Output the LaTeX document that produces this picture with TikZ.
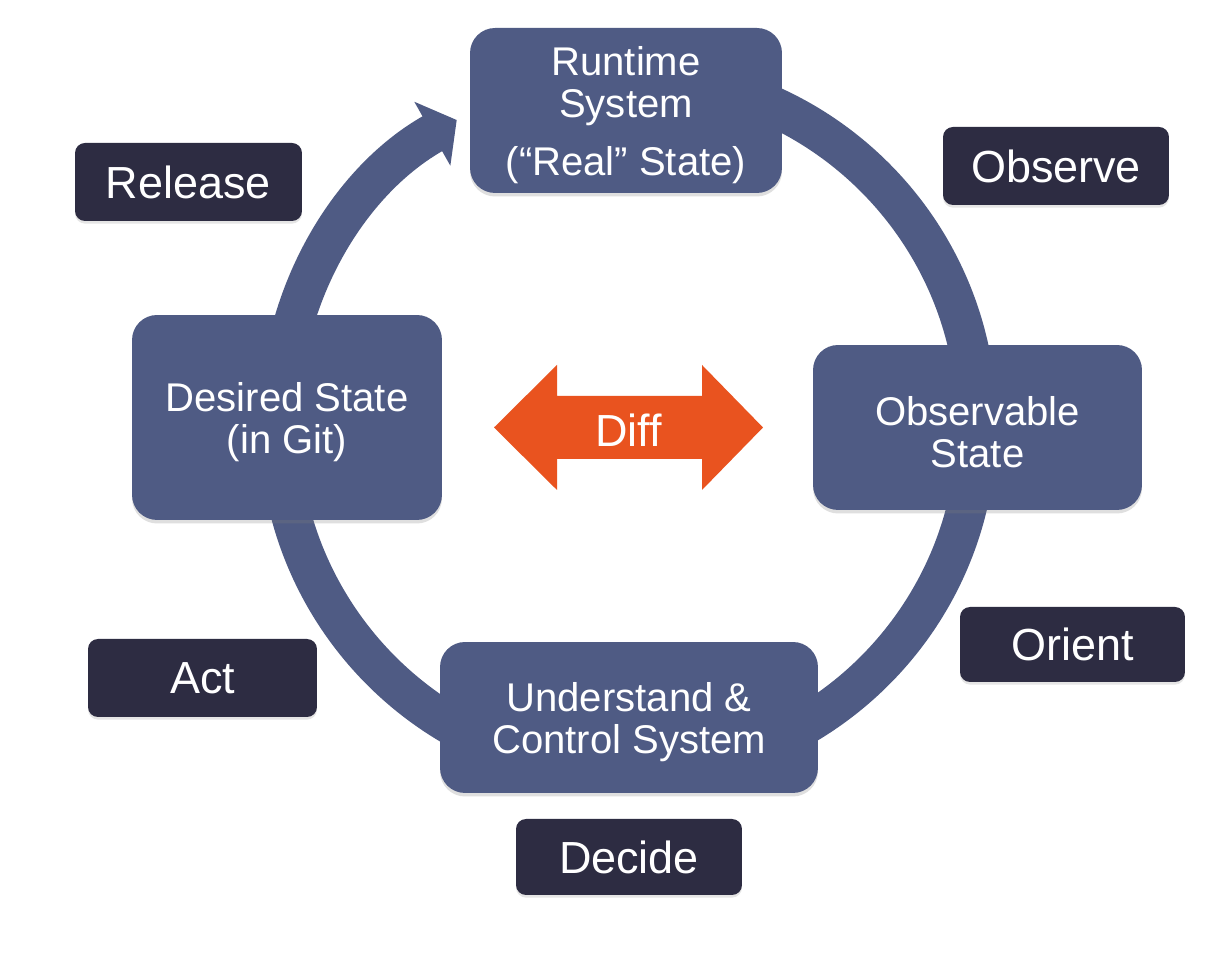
\documentclass[tikz,border=0pt]{standalone}
\usepackage{fontspec}
\setmainfont{Liberation Sans}
\usetikzlibrary{arrows.meta,shadows,calc}
\definecolor{boxblue}{HTML}{4F5B84}
\definecolor{labeldark}{HTML}{2D2C42}
\definecolor{difforange}{HTML}{E9531F}
\begin{document}
\begin{tikzpicture}[x=0.02cm,y=0.02cm,
  ring/.style={draw=boxblue, line width=0.8cm, line cap=butt, -{Triangle[width=1.44cm,length=0.56cm]}},
  stbox/.style={rectangle, rounded corners=0.5cm, fill=boxblue, inner sep=0pt,
    drop shadow={shadow xshift=0pt, shadow yshift=-2pt, opacity=0.25}},
  boxtext/.style={text=white, align=center, font=\fontsize{22.8}{23.9}\selectfont,
    inner sep=0pt, yshift=-0.09cm},
  phase/.style={rectangle, rounded corners=0.2cm, fill=labeldark, text=white,
    font=\fontsize{25.6}{28}\selectfont, inner sep=0pt,
    drop shadow={shadow xshift=0pt, shadow yshift=-1.5pt, opacity=0.2}},
  difftext/.style={text=white, font=\fontsize{25.6}{28}\selectfont, inner sep=0pt},
  diffshape/.style={fill=difforange}
]
\useasboundingbox[fill=white] (0,0) rectangle (1214,962);

% cycle ring
\coordinate (ringc) at (628,538);
\draw[ring] ([shift={(90:6.98cm)}]ringc) arc[start angle=90, end angle=-240.6, radius=6.98cm];

% state boxes
\node[stbox, minimum width=6.24cm, minimum height=3.3cm,
  label={[boxtext]center:Runtime\\System\\[0.32cm](“Real” State)}] (runtime) at (626,851.5) {};
\node[stbox, minimum width=6.2cm, minimum height=4.1cm,
  label={[boxtext]center:Desired State\\(in Git)}] (desired) at (287,544.5) {};
\node[stbox, minimum width=6.58cm, minimum height=3.3cm,
  label={[boxtext]center:Observable\\State}] (observable) at (977.5,534.5) {};
\node[stbox, minimum width=7.56cm, minimum height=3.02cm,
  label={[boxtext]center:Understand \&\\Control System}] (understand) at (629,244.5) {};

% phase labels
\node[phase, minimum width=4.54cm, minimum height=1.56cm] (release) at (188.5,780) {Release};
\node[phase, minimum width=4.52cm, minimum height=1.56cm] (observe) at (1056,796) {Observe};
\node[phase, minimum width=4.5cm, minimum height=1.5cm] (orient) at (1072.5,317.5) {Orient};
\node[phase, minimum width=4.58cm, minimum height=1.56cm] (act) at (202.5,284) {Act};
\node[phase, minimum width=4.52cm, minimum height=1.52cm] (decide) at (629,105) {Decide};

% diff double arrow
\fill[diffshape, shift={(628.5,534.5)}]
  (-134.5,0) -- (-71.5,62.5) -- (-71.5,31.5) -- (73.5,31.5) -- (73.5,62.5) -- (134.5,0)
  -- (73.5,-62.5) -- (73.5,-31.5) -- (-71.5,-31.5) -- (-71.5,-62.5) -- cycle;
\node[difftext] (diff) at (628.5,532) {Diff};
\end{tikzpicture}
\end{document}
